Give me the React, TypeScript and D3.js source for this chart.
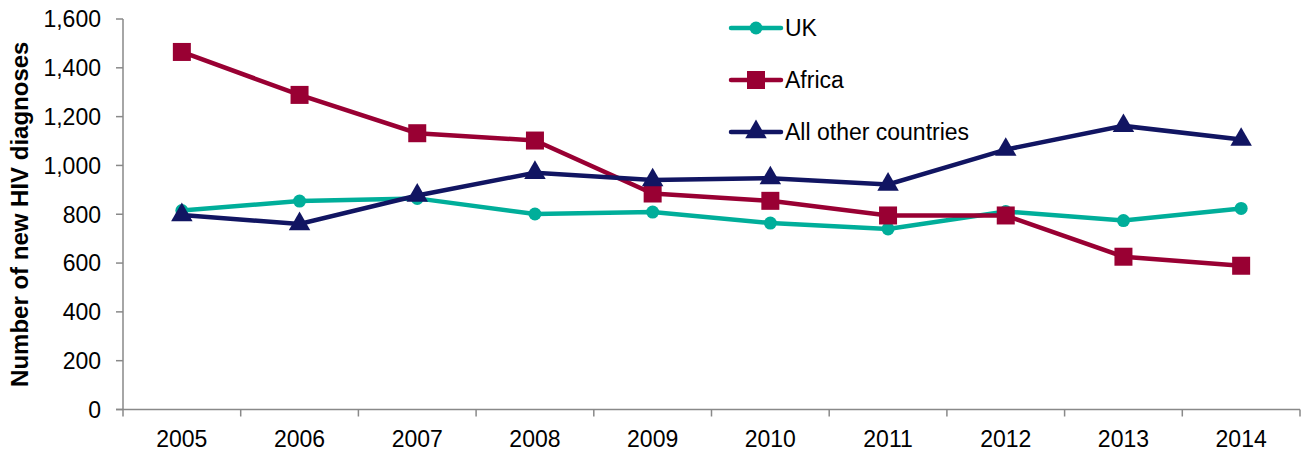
import React from "react";
import * as d3 from "d3";

const years = ["2005", "2006", "2007", "2008", "2009", "2010", "2011", "2012", "2013", "2014"];
const ukValues = [815, 854, 865, 801, 809, 764, 740, 811, 774, 824];
const africaValues = [1465, 1289, 1132, 1102, 885, 855, 795, 795, 626, 589];
const otherValues = [797, 760, 877, 970, 940, 948, 922, 1065, 1162, 1106];
const yTicks = [0, 200, 400, 600, 800, 1000, 1200, 1400, 1600];

const W = 1306;
const H = 454;
const left = 123;
const right = 1300;
const top = 19;
const bottom = 409.5;
const font = "Arial, 'Liberation Sans', sans-serif";

const series = [
  { name: "UK", values: ukValues, color: "#00AE9A", marker: "circle" },
  { name: "Africa", values: africaValues, color: "#990033", marker: "square" },
  { name: "All other countries", values: otherValues, color: "#111562", marker: "triangle" },
];

function Marker({ type, x, y, color }: { type: string; x: number; y: number; color: string }) {
  if (type === "circle") return <circle cx={x} cy={y} r={6.5} fill={color} />;
  if (type === "square") return <rect x={x - 9} y={y - 9} width={18} height={18} fill={color} />;
  const sym = d3.symbol(d3.symbolTriangle, 200)();
  return <path d={sym || ""} transform={`translate(${x},${y})`} fill={color} />;
}

export default function App() {
  const x = d3.scaleBand<string>().domain(years).range([left, right]);
  const y = d3.scaleLinear().domain([0, 1600]).range([bottom, top]);
  const line = d3
    .line<number>()
    .x((_, i) => (x(years[i]) as number) + x.bandwidth() / 2)
    .y((d) => y(d));
  const axisColor = "#898989";

  return (
    <svg width={W} height={H} style={{ position: "absolute", left: 0, top: 0 }} fontFamily={font}>
      {/* axes */}
      <line x1={left} x2={left} y1={top} y2={bottom} stroke={axisColor} strokeWidth={1.5} />
      <line x1={left - 7} x2={right} y1={bottom} y2={bottom} stroke={axisColor} strokeWidth={1.5} />
      {yTicks.map((t) => (
        <g key={t}>
          <line x1={left - 7} x2={left} y1={y(t)} y2={y(t)} stroke={axisColor} strokeWidth={1.5} />
          <text x={101} y={y(t)} dy="0.36em" textAnchor="end" fontSize={23} fill="#000">
            {d3.format(",")(t)}
          </text>
        </g>
      ))}
      {years.map((yr) => (
        <line
          key={"t" + yr}
          x1={x(yr) as number}
          x2={x(yr) as number}
          y1={bottom}
          y2={bottom + 7}
          stroke={axisColor}
          strokeWidth={1.5}
        />
      ))}
      <line x1={right} x2={right} y1={bottom} y2={bottom + 7} stroke={axisColor} strokeWidth={1.5} />
      {years.map((yr) => (
        <text
          key={"l" + yr}
          x={(x(yr) as number) + x.bandwidth() / 2}
          y={447}
          textAnchor="middle"
          fontSize={23}
          fill="#000"
        >
          {yr}
        </text>
      ))}
      <text
        transform={`translate(28,${(top + bottom) / 2 + 0}) rotate(-90)`}
        textAnchor="middle"
        fontSize={24}
        fontWeight="bold"
        fill="#000"
      >
        Number of new HIV diagnoses
      </text>

      {/* series */}
      {series.map((s) => (
        <g key={s.name}>
          <path d={line(s.values) || ""} fill="none" stroke={s.color} strokeWidth={4.5} />
          {s.values.map((v, i) => (
            <Marker
              key={i}
              type={s.marker}
              x={(x(years[i]) as number) + x.bandwidth() / 2}
              y={y(v)}
              color={s.color}
            />
          ))}
        </g>
      ))}

      {/* legend */}
      {series.map((s, i) => {
        const ly = 28 + i * 52;
        return (
          <g key={"lg" + s.name}>
            <line x1={731} x2={781} y1={ly} y2={ly} stroke={s.color} strokeWidth={4.5} strokeLinecap="round" />
            <Marker type={s.marker} x={756} y={ly} color={s.color} />
            <text x={785} y={ly} dy="0.36em" fontSize={23} fill="#000">
              {s.name}
            </text>
          </g>
        );
      })}
    </svg>
  );
}
